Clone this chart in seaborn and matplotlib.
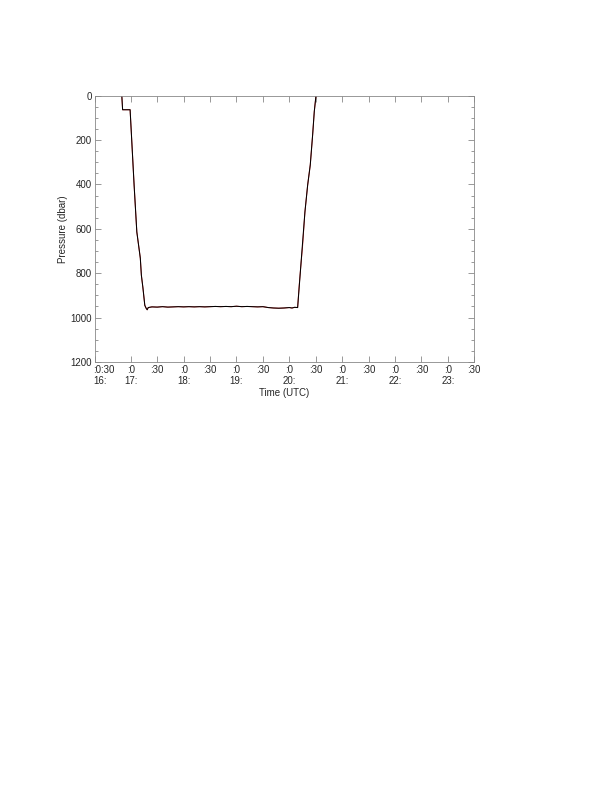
import matplotlib
matplotlib.use("Agg")
import matplotlib.pyplot as plt
import seaborn as sns
import numpy as np
import pandas as pd

# time in decimal hours (UTC), pressure in dbar
time_hr = [16.83, 16.845, 16.85, 16.987, 17.0625, 17.114, 17.18, 17.20,
           17.23, 17.265, 17.29, 17.31, 17.33, 17.4, 17.5, 17.6, 17.7, 17.8, 17.9, 18.0,
           18.1, 18.2, 18.3, 18.4, 18.5, 18.6, 18.7, 18.8, 18.9, 19.0, 19.1, 19.2, 19.3,
           19.4, 19.5, 19.6, 19.7, 19.8, 19.9, 20.0, 20.05, 20.1, 20.157, 20.187, 20.22,
           20.252, 20.295, 20.347, 20.396, 20.441, 20.472, 20.504]
pressure = [0, 63, 63, 63, 402, 614, 732, 809,
            867, 945, 958, 965, 955, 952, 953, 951, 953, 952, 951, 952,
            951, 952, 951, 952, 951, 950, 951, 950, 951, 949, 951, 950, 951,
            952, 951, 955, 957, 958, 957, 955, 957, 954, 955, 854, 760,
            673, 524, 402, 312, 176, 71, 0]

# black trace has a gap on the lower part of the ascent and the first step
gap = [False, False, True] + [False] * 40 + [True, True, True] + [False] * 6

df = pd.DataFrame({"time": time_hr, "pressure": pressure})
df_black = df.copy()
df_black.loc[np.array(gap), "pressure"] = np.nan

tick_pos = [16.32, 17.0, 17.5, 18.0, 18.5, 19.0, 19.5, 20.0, 20.5, 21.0, 21.5,
            22.0, 22.5, 23.0, 23.5]
tick_lab = ["", ":0\n17:", ":30\n", ":0\n18:", ":30\n", ":0\n19:", ":30\n",
            ":0\n20:", ":30\n", ":0\n21:", ":30\n", ":0\n22:", ":30\n", ":0\n23:", ":30\n"]
first_lab = ":0:30\n16:"

sns.set_style("ticks")
plt.rcParams["font.family"] = ["Liberation Sans", "DejaVu Sans"]

fig = plt.figure(figsize=(6.12, 7.85), dpi=100)
ax = fig.add_axes([0.155, 0.539, 0.62, 0.339])

sns.lineplot(data=df, x="time", y="pressure", color="#e03030", lw=0.7,
             sort=False, estimator=None, ax=ax)
sns.lineplot(data=df_black, x="time", y="pressure", color="black", lw=0.75,
             sort=False, estimator=None, ax=ax)

ax.set_xlim(16.32, 23.5)
ax.set_ylim(1200, 0)
ax.set_xticks(tick_pos)
ax.set_xticklabels(tick_lab, fontsize=7)
# the first label sits left-aligned at the axis start
ax.annotate(first_lab, xy=(tick_pos[0], 0), xycoords=ax.get_xaxis_transform(),
            xytext=(-1, -2), textcoords="offset points", ha="left", va="top",
            fontsize=7, color=ax.xaxis.get_ticklabels()[1].get_color())
ax.set_yticks(range(0, 1201, 200))
ax.set_yticks(range(0, 1201, 50), minor=True)
ax.tick_params(axis="y", labelsize=7)
ax.tick_params(which="both", direction="in", top=True, right=True,
               color="#888888", length=4, width=0.6, pad=2)
ax.tick_params(which="minor", length=2.5)
for s in ax.spines.values():
    s.set_color("#888888")
    s.set_linewidth(0.6)

ax.set_xlabel("Time (UTC)", fontsize=7, labelpad=1)
ax.set_ylabel("Pressure (dbar)", fontsize=7, labelpad=2)

fig.savefig("out.png", dpi=100)
plt.close(fig)
